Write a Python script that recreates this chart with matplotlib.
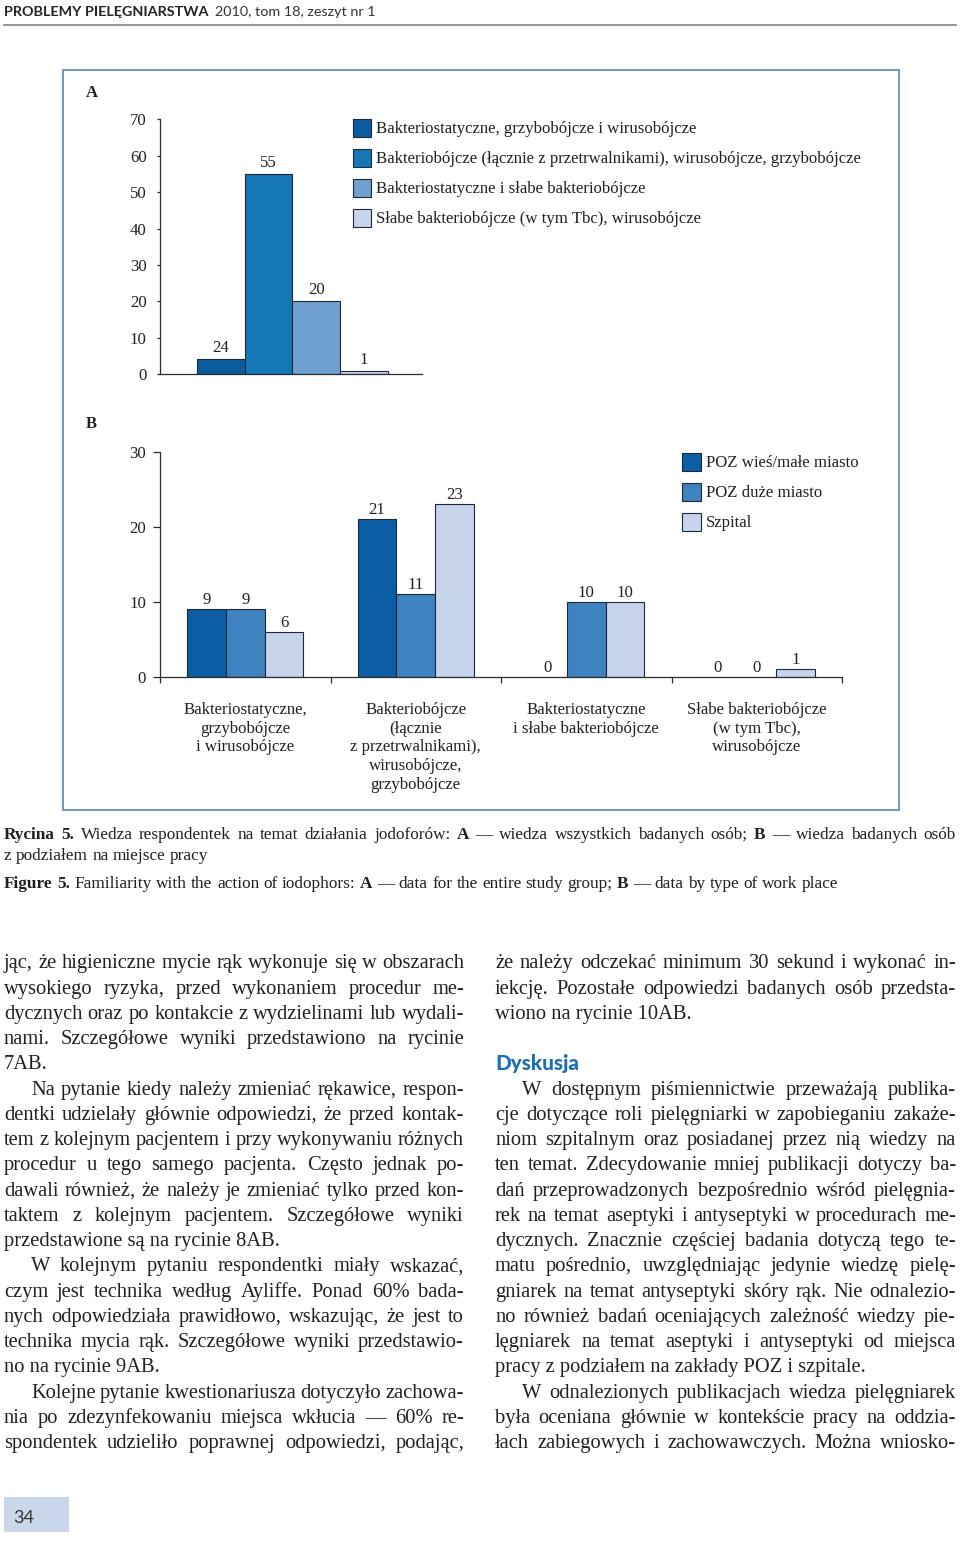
import numpy as np
import matplotlib
matplotlib.use('Agg')
import matplotlib.pyplot as plt
from matplotlib.patches import Rectangle
from matplotlib.lines import Line2D
from matplotlib.transforms import Affine2D, blended_transform_factory
from matplotlib.font_manager import FontProperties

# ---------------- data ----------------
a_legend = ['Bakteriostatyczne, grzybobójcze i wirusobójcze',
            'Bakteriobójcze (łącznie z przetrwalnikami), wirusobójcze, grzybobójcze',
            'Bakteriostatyczne i słabe bakteriobójcze',
            'Słabe bakteriobójcze (w tym Tbc), wirusobójcze']
a_heights = [4.3, 55, 20, 1]          # bar heights as drawn in the figure
a_value_text = ['24', '55', '20', '1']  # printed value labels
a_yticks = [0, 10, 20, 30, 40, 50, 60, 70]

b_categories = ['Bakteriostatyczne,\ngrzybobójcze\ni wirusobójcze',
                'Bakteriobójcze\n(łącznie\nz przetrwalnikami),\nwirusobójcze,\ngrzybobójcze',
                'Bakteriostatyczne\ni słabe bakteriobójcze',
                'Słabe bakteriobójcze\n(w tym Tbc),\nwirusobójcze']
b_series = ['POZ wieś/małe miasto', 'POZ duże miasto', 'Szpital']
b_wies = [9, 21, 0, 0]
b_duze = [9, 11, 10, 0]
b_szpital = [6, 23, 10, 1]
b_yticks = [0, 10, 20, 30]

# ---------------- styles ----------------
A_COLORS = ['#0b5c9f', '#1577b5', '#6fa0cf', '#c6d5eb']
B_COLORS = ['#0b5ea3', '#3e82c0', '#c5d4ea']
EDGE = '#1c2836'
AXC = '#2b2b2b'
TXT = '#231f20'
SERIF = ['Liberation Serif', 'DejaVu Serif']
SANS = ['Lato', 'DejaVu Sans']
CH = 12.1  # chart font size (pt)

plt.rcParams['font.family'] = SERIF

W, H = 960, 1541
fig = plt.figure(figsize=(W / 100, H / 100), dpi=100)
fig.patch.set_facecolor('white')
PX = Affine2D().scale(1 / W, -1 / H).translate(0, 1) + fig.transFigure
renderer = fig.canvas.get_renderer()


def T(x, y, s, **kw):
    return fig.text(x, y, s, transform=PX, **kw)


def tw(s, prop):
    w, h, d = renderer.get_text_width_height_descent(s, prop, ismath=False)
    return w


def axes_px(l, t, r, b):
    return fig.add_axes([l / W, 1 - b / H, (r - l) / W, (b - t) / H])


# ---------------- header ----------------
hb = FontProperties(family=SANS, weight='bold', size=10)
hsize = 10 * 205 / tw('PROBLEMY PIELĘGNIARSTWA', hb)
hb.set_size(hsize)
hr = FontProperties(family=SANS, weight='normal', size=hsize)
T(4, 16, 'PROBLEMY PIELĘGNIARSTWA', fontproperties=hb, color='#222222', va='baseline')
T(215, 16, '2010, tom 18, zeszyt nr 1', fontproperties=hr, color='#333333', va='baseline')
fig.add_artist(Line2D([4, 956], [25.5, 25.5], transform=PX, color='#8c8c8c', lw=1.3))

# ---------------- frame ----------------
fig.add_artist(Rectangle((63, 70), 836, 740, transform=PX, fill=False,
                         edgecolor='#7099bd', lw=1.4))

# ---------------- chart A ----------------
T(86, 96.7, 'A', fontsize=12, fontweight='bold', color=TXT, va='baseline')
axA = axes_px(160, 119.3, 421.7, 374.3)
xa = np.arange(len(a_heights))
barsA = axA.bar(xa, a_heights, width=1.0, color=A_COLORS, edgecolor=EDGE, linewidth=0.8)
axA.set_xlim(-1.276, 4.213)
axA.set_ylim(0, 70)
axA.set_xticks([])
axA.set_yticks(a_yticks)
axA.tick_params(axis='y', length=2.5, width=0.9, color=AXC, pad=7, labelsize=CH, labelcolor=TXT)
for s in ['top', 'right']:
    axA.spines[s].set_visible(False)
for s in ['left', 'bottom']:
    axA.spines[s].set_color(AXC)
    axA.spines[s].set_linewidth(0.9)
axA.patch.set_alpha(0)
for bar, t in zip(barsA, a_value_text):
    axA.annotate(t, (bar.get_x() + bar.get_width() / 2, bar.get_height()),
                 xytext=(0, 7), textcoords='offset pixels', ha='center', va='baseline',
                 fontsize=CH, color=TXT)

for i, (lab, col) in enumerate(zip(a_legend, A_COLORS)):
    cy = 127.8 + i * 30.2
    fig.add_artist(Rectangle((352.5, cy - 9), 18.5, 18, transform=PX, facecolor=col,
                             edgecolor=EDGE, lw=0.8))
    T(375.5, cy + 5, lab, fontsize=CH, color=TXT, va='baseline')

# ---------------- chart B ----------------
T(86, 428.3, 'B', fontsize=12, fontweight='bold', color=TXT, va='baseline')
axB = axes_px(160, 451.7, 842, 676.7)
xb = np.arange(len(b_categories))
bw = 0.2275
b_all = [b_wies, b_duze, b_szpital]
for k, (vals, col) in enumerate(zip(b_all, B_COLORS)):
    bars = axB.bar(xb + (k - 1) * bw, vals, width=bw, color=col, edgecolor=EDGE, linewidth=0.8)
    for bar, v in zip(bars, vals):
        axB.annotate(str(v), (bar.get_x() + bar.get_width() / 2, bar.get_height()),
                     xytext=(0, 5), textcoords='offset pixels', ha='center', va='baseline',
                     fontsize=CH, color=TXT)
axB.set_xlim(-0.5, 3.5)
axB.set_ylim(0, 30)
axB.set_xticks(np.arange(-0.5, 3.6, 1.0))
axB.set_xticklabels([])
axB.set_yticks(b_yticks)
axB.tick_params(axis='x', length=4, width=0.9, color=AXC)
axB.tick_params(axis='y', length=5, width=0.9, color=AXC, pad=5, labelsize=CH, labelcolor=TXT)
for s in ['top', 'right']:
    axB.spines[s].set_visible(False)
for s in ['left', 'bottom']:
    axB.spines[s].set_color(AXC)
    axB.spines[s].set_linewidth(0.9)
axB.patch.set_alpha(0)

bt = blended_transform_factory(axB.transData, PX)
for i, cat in enumerate(b_categories):
    for j, line in enumerate(cat.split('\n')):
        axB.text(xb[i], 714 + j * 18.7, line, transform=bt, ha='center', va='baseline',
                 fontsize=CH, color=TXT, clip_on=False)

for i, (lab, col) in enumerate(zip(b_series, B_COLORS)):
    cy = 461.7 + i * 30.3
    fig.add_artist(Rectangle((682.3, cy - 9), 18.4, 18, transform=PX, facecolor=col,
                             edgecolor=EDGE, lw=0.8))
    T(705.7, cy + 5, lab, fontsize=CH, color=TXT, va='baseline')

# ---------------- caption ----------------
cap_bold = {'Rycina', '5.', 'A', 'B', 'Figure'}
cap1 = 'Rycina 5. Wiedza respondentek na temat działania jodoforów: A — wiedza wszystkich badanych osób; B — wiedza badanych osób'
cap2 = 'z podziałem na miejsce pracy'
cap3 = 'Figure 5. Familiarity with the action of iodophors: A — data for the entire study group; B — data by type of work place'


def cap_props(size):
    return (FontProperties(family=SERIF, size=size),
            FontProperties(family=SERIF, size=size, weight='bold'))


def words_width(words, size):
    pr, pb = cap_props(size)
    ws = [tw(w, pb if w in cap_bold else pr) for w in words]
    sp = tw('a a', pr) - tw('aa', pr)
    return ws, sp


w3, sp = words_width(cap3.split(' '), 10)
csize = 10 * 833 / (sum(w3) + sp * (len(w3) - 1))
crp, cbp = cap_props(csize)


def draw_caption(line, x0, y, x1=None):
    words = line.split(' ')
    ws, spw = words_width(words, csize)
    gap = spw if x1 is None else (x1 - x0 - sum(ws)) / (len(words) - 1)
    x = x0
    for w, wd in zip(words, ws):
        T(x, y, w, fontproperties=(cbp if w in cap_bold else crp), color=TXT, va='baseline')
        x += wd + gap


draw_caption(cap1, 4, 839, 956)
draw_caption(cap2, 4, 860)
draw_caption(cap3, 4, 888)

# ---------------- body text ----------------
BODY = FontProperties(family=SERIF, size=14.8)
# (text, indent, justify)
left_lines = [
    ('jąc, że higieniczne mycie rąk wykonuje się w obszarach', 0, 1),
    ('wysokiego ryzyka, przed wykonaniem procedur me-', 0, 1),
    ('dycznych oraz po kontakcie z wydzielinami lub wydali-', 0, 1),
    ('nami. Szczegółowe wyniki przedstawiono na rycinie', 0, 1),
    ('7AB.', 0, 0),
    ('Na pytanie kiedy należy zmieniać rękawice, respon-', 1, 1),
    ('dentki udzielały głównie odpowiedzi, że przed kontak-', 0, 1),
    ('tem z kolejnym pacjentem i przy wykonywaniu różnych', 0, 1),
    ('procedur u tego samego pacjenta. Często jednak po-', 0, 1),
    ('dawali również, że należy je zmieniać tylko przed kon-', 0, 1),
    ('taktem z kolejnym pacjentem. Szczegółowe wyniki', 0, 1),
    ('przedstawione są na rycinie 8AB.', 0, 0),
    ('W kolejnym pytaniu respondentki miały wskazać,', 1, 1),
    ('czym jest technika według Ayliffe. Ponad 60% bada-', 0, 1),
    ('nych odpowiedziała prawidłowo, wskazując, że jest to', 0, 1),
    ('technika mycia rąk. Szczegółowe wyniki przedstawio-', 0, 1),
    ('no na rycinie 9AB.', 0, 0),
    ('Kolejne pytanie kwestionariusza dotyczyło zachowa-', 1, 1),
    ('nia po zdezynfekowaniu miejsca wkłucia — 60% re-', 0, 1),
    ('spondentek udzieliło poprawnej odpowiedzi, podając,', 0, 1),
]
right_lines = [
    ('że należy odczekać minimum 30 sekund i wykonać in-', 0, 1),
    ('iekcję. Pozostałe odpowiedzi badanych osób przedsta-', 0, 1),
    ('wiono na rycinie 10AB.', 0, 0),
    None,
    'HEAD',
    ('W dostępnym piśmiennictwie przeważają publika-', 1, 1),
    ('cje dotyczące roli pielęgniarki w zapobieganiu zakaże-', 0, 1),
    ('niom szpitalnym oraz posiadanej przez nią wiedzy na', 0, 1),
    ('ten temat. Zdecydowanie mniej publikacji dotyczy ba-', 0, 1),
    ('dań przeprowadzonych bezpośrednio wśród pielęgnia-', 0, 1),
    ('rek na temat aseptyki i antyseptyki w procedurach me-', 0, 1),
    ('dycznych. Znacznie częściej badania dotyczą tego te-', 0, 1),
    ('matu pośrednio, uwzględniając jedynie wiedzę pielę-', 0, 1),
    ('gniarek na temat antyseptyki skóry rąk. Nie odnalezio-', 0, 1),
    ('no również badań oceniających zależność wiedzy pie-', 0, 1),
    ('lęgniarek na temat aseptyki i antyseptyki od miejsca', 0, 1),
    ('pracy z podziałem na zakłady POZ i szpitale.', 0, 0),
    ('W odnalezionych publikacjach wiedza pielęgniarek', 1, 1),
    ('była oceniana głównie w kontekście pracy na oddzia-', 0, 1),
    ('łach zabiegowych i zachowawczych. Można wniosko-', 0, 1),
]

LINE0, LSTEP, INDENT = 968.3, 25.26, 27


def draw_column(lines, x0, x1):
    for i, item in enumerate(lines):
        y = LINE0 + i * LSTEP
        if item is None:
            continue
        if item == 'HEAD':
            hp = FontProperties(family=SANS, weight='black', size=10)
            hp.set_size(10 * 84 / tw('Dyskusja', hp))
            T(x0, y + 1, 'Dyskusja', fontproperties=hp, color='#1c6db4', va='baseline')
            continue
        text, ind, just = item
        xs = x0 + (INDENT if ind else 0)
        if not just:
            T(xs, y, text, fontproperties=BODY, color=TXT, va='baseline')
            continue
        words = text.split(' ')
        ws = [tw(w, BODY) for w in words]
        gap = max((x1 - xs - sum(ws)) / (len(words) - 1), 1.5)
        x = xs
        for w, wd in zip(words, ws):
            T(x, y, w, fontproperties=BODY, color=TXT, va='baseline')
            x += wd + gap


draw_column(left_lines, 4, 464)
draw_column(right_lines, 495, 956)

# ---------------- page number ----------------
fig.add_artist(Rectangle((4, 1497.3), 65.3, 35, transform=PX, facecolor='#c9d7ea', edgecolor='none'))
pp = FontProperties(family=SANS, size=10)
pp.set_size(10 * 21 / tw('34', pp))
T(13.3, 1522.7, '34', fontproperties=pp, color='#333333', va='baseline')

fig.savefig('out.png', dpi=100, facecolor='white')
